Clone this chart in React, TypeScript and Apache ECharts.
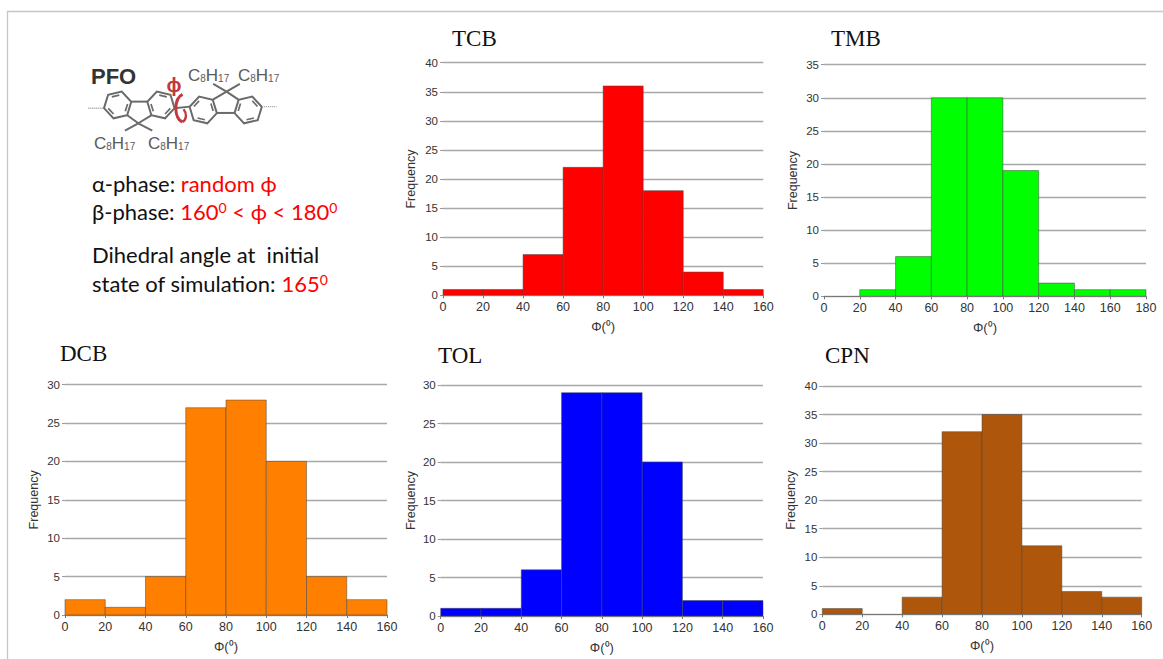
import React, { useEffect, useRef } from "react";
import * as echarts from "echarts";

const tcbValues = [1, 1, 7, 22, 36, 18, 4, 1];
const tmbValues = [0, 1, 6, 30, 30, 19, 2, 1, 1];
const dcbValues = [2, 1, 5, 27, 28, 20, 5, 2];
const tolValues = [1, 1, 6, 29, 29, 20, 2, 2];
const cpnValues = [1, 0, 3, 32, 35, 12, 4, 3];
const binWidth = 20;
const xName = "Φ(⁰)";
const yName = "Frequency";

const panels = [
  { title: "TCB", values: tcbValues, color: "#ff0000", xMax: 160, yMax: 40, l: 443, r: 763.3, t: 62.7, b: 295.3, tx: 452, ty: 38, yGap: 26 },
  { title: "TMB", values: tmbValues, color: "#00ff00", xMax: 180, yMax: 35, l: 824, r: 1146, t: 64.7, b: 296.3, tx: 831, ty: 38, yGap: 25 },
  { title: "DCB", values: dcbValues, color: "#ff8000", xMax: 160, yMax: 30, l: 65, r: 387, t: 384.7, b: 615, tx: 60, ty: 353, yGap: 25 },
  { title: "TOL", values: tolValues, color: "#0000ff", xMax: 160, yMax: 30, l: 440.7, r: 763, t: 385, b: 616, tx: 438, ty: 355, yGap: 23 },
  { title: "CPN", values: cpnValues, color: "#ae570c", xMax: 160, yMax: 40, l: 822.3, r: 1141.7, t: 386, b: 614.3, tx: 825, ty: 355, yGap: 25 },
];

const AXIS_FONT = "'Liberation Sans', Arial, sans-serif";
const BODY_FONT = "Lato, 'Noto Sans', sans-serif";
const BOND = "#6a6a6a";
const RED = "#ff0000";
const DARK_RED = "#c23a40";

// Hexagon ring with inner double-bond strokes, in the molecule's own drawing units
function ring(cx: number, cy: number, rot: number, doubles: number[]) {
  const R = 42;
  const p: number[][] = [];
  for (let i = 0; i < 6; i++) {
    const a = ((rot + i * 60) * Math.PI) / 180;
    p.push([cx + R * Math.cos(a), cy + R * Math.sin(a)]);
  }
  const els: any[] = [
    { type: "polygon", shape: { points: p }, style: { fill: "none", stroke: BOND, lineWidth: 6 } },
  ];
  doubles.forEach((i) => {
    const a = p[i];
    const b = p[(i + 1) % 6];
    const k = 0.76;
    const shrink = (q: number[]) => [cx + (q[0] - cx) * k, cy + (q[1] - cy) * k];
    const s = shrink(a);
    const e = shrink(b);
    els.push({
      type: "line",
      shape: { x1: s[0] + (e[0] - s[0]) * 0.14, y1: s[1] + (e[1] - s[1]) * 0.14, x2: e[0] - (e[0] - s[0]) * 0.14, y2: e[1] - (e[1] - s[1]) * 0.14 },
      style: { stroke: BOND, lineWidth: 5 },
    });
  });
  return els;
}

function bond(x1: number, y1: number, x2: number, y2: number, dashed = false) {
  return {
    type: "line",
    shape: { x1, y1, x2, y2 },
    style: { stroke: dashed ? "#9a9a9a" : BOND, lineWidth: dashed ? 4 : 6, lineDash: dashed ? [3, 3] : undefined },
  };
}

const moleculeChildren: any[] = [
  ...ring(98, 135, -13, [0, 2, 4]),
  ...ring(228, 135, 13, [0, 2, 4]),
  ...ring(355, 150, 13, [1, 3, 5]),
  ...ring(490, 150, -13, [1, 3, 5]),
  bond(139, 125, 187, 125),
  bond(127, 166, 160, 190),
  bond(199, 166, 160, 190),
  bond(160, 190, 120, 212),
  bond(160, 190, 202, 212),
  bond(396, 159, 449, 159),
  bond(384, 119, 425, 95),
  bond(461, 119, 425, 95),
  bond(425, 95, 385, 72),
  bond(425, 95, 465, 72),
  bond(269, 145, 314, 140),
  bond(10, 145, 57, 145, true),
  bond(531, 140, 575, 140, true),
  {
    type: "bezierCurve",
    shape: { x1: 293, y1: 103, x2: 293, y2: 186, cpx1: 266, cpy1: 116, cpx2: 266, cpy2: 176 },
    style: { stroke: DARK_RED, lineWidth: 9, fill: "none" },
  },
  {
    type: "bezierCurve",
    shape: { x1: 293, y1: 186, x2: 296, y2: 148, cpx1: 306, cpy1: 178, cpx2: 306, cpy2: 160 },
    style: { stroke: DARK_RED, lineWidth: 7, fill: "none" },
  },
];

const chemRich = {
  n: { fontFamily: AXIS_FONT, fontSize: 17, fill: "#5a5a5a", color: "#5a5a5a" },
  s: { fontFamily: AXIS_FONT, fontSize: 10, fill: "#5a5a5a", color: "#5a5a5a", verticalAlign: "bottom" },
};

function chem(x: number, y: number) {
  return {
    type: "text",
    x,
    y,
    style: { text: "{n|C}{s|8}{n|H}{s|17}", rich: chemRich, verticalAlign: "middle" },
  };
}

const bodyRich = {
  k: { fontFamily: BODY_FONT, fontSize: 22, fill: "#111111" },
  r: { fontFamily: BODY_FONT, fontSize: 22, fill: RED },
  u: { fontFamily: BODY_FONT, fontSize: 14, fill: RED, verticalAlign: "top" },
};

function bodyLine(y: number, text: string) {
  return { type: "text", x: 92, y, style: { text, rich: bodyRich, verticalAlign: "middle" } };
}

function renderBin(color: string) {
  return (params: any, api: any) => {
    const v = api.value(2);
    if (!v) return null;
    const a = api.coord([api.value(0), v]);
    const b = api.coord([api.value(1), 0]);
    return {
      type: "rect",
      shape: { x: a[0], y: a[1], width: b[0] - a[0], height: b[1] - a[1] },
      style: { fill: color, stroke: "rgba(70,70,70,0.5)", lineWidth: 1 },
    };
  };
}

export default function App() {
  const ref = useRef<HTMLDivElement>(null);
  useEffect(() => {
    const chart = echarts.init(ref.current!, undefined, { renderer: "svg" });
    const option: any = {
      animation: false,
      backgroundColor: "#ffffff",
      grid: panels.map((p) => ({ left: p.l, top: p.t, width: p.r - p.l, height: p.b - p.t, containLabel: false })),
      xAxis: panels.map((p, i) => ({
        type: "value",
        gridIndex: i,
        min: 0,
        max: p.xMax,
        interval: binWidth,
        z: 5,
        name: xName,
        nameLocation: "middle",
        nameGap: 25,
        nameTextStyle: { fontFamily: AXIS_FONT, fontSize: 13, color: "#333333" },
        splitLine: { show: false },
        axisLine: { show: true, onZero: false, lineStyle: { color: "#777777", width: 1 } },
        axisTick: { show: true, length: 3, lineStyle: { color: "#777777" } },
        axisLabel: { fontFamily: AXIS_FONT, fontSize: 12.5, color: "#333333", margin: 5, showMinLabel: true, showMaxLabel: true, hideOverlap: false },
      })),
      yAxis: panels.map((p, i) => ({
        type: "value",
        gridIndex: i,
        min: 0,
        max: p.yMax,
        interval: 5,
        name: yName,
        nameLocation: "middle",
        nameGap: p.yGap,
        nameTextStyle: { fontFamily: AXIS_FONT, fontSize: 12.5, color: "#333333" },
        axisLine: { show: false },
        axisTick: { show: true, length: 3, lineStyle: { color: "#999999" } },
        axisLabel: { fontFamily: AXIS_FONT, fontSize: 11.5, color: "#333333", margin: 5 },
        splitLine: { show: true, lineStyle: { color: "#a8a8a8", width: 1.4 } },
      })),
      series: panels.map((p, i) => ({
        type: "custom",
        xAxisIndex: i,
        yAxisIndex: i,
        clip: false,
        renderItem: renderBin(p.color),
        encode: { x: [0, 1], y: 2 },
        data: p.values.map((v, k) => [k * binWidth, (k + 1) * binWidth, v]),
      })),
      graphic: {
        elements: [
          { type: "line", shape: { x1: 7, y1: 11.5, x2: 1163, y2: 11.5 }, style: { stroke: "#c6c6c6", lineWidth: 1.3 } },
          { type: "line", shape: { x1: 7.5, y1: 11, x2: 7.5, y2: 659 }, style: { stroke: "#c6c6c6", lineWidth: 1.3 } },
          ...panels.map((p) => ({
            type: "text",
            x: p.tx,
            y: p.ty,
            style: { text: p.title, fontFamily: "'Liberation Serif', serif", fontSize: 23, fill: "#111111", verticalAlign: "middle" },
          })),
          { type: "group", x: 85, y: 60, scaleX: 1 / 3, scaleY: 1 / 3, children: moleculeChildren },
          { type: "text", x: 91, y: 76, style: { text: "PFO", fontFamily: AXIS_FONT, fontWeight: "bold", fontSize: 22, fill: "#333333", verticalAlign: "middle" } },
          { type: "text", x: 174, y: 85, style: { text: "ϕ", fontFamily: AXIS_FONT, fontWeight: "bold", fontSize: 20, fill: DARK_RED, align: "center", verticalAlign: "middle" } },
          chem(188, 75),
          chem(238, 75),
          chem(94, 143),
          chem(148, 143),
          bodyLine(183, "{k|α-phase: }{r|random ϕ}"),
          bodyLine(211, "{k|β-phase: }{r|160}{u|0}{r| < ϕ < 180}{u|0}"),
          bodyLine(254, "{k|Dihedral angle at  initial}"),
          bodyLine(283, "{k|state of simulation: }{r|165}{u|0}"),
        ],
      },
    };
    chart.setOption(option);
    return () => chart.dispose();
  }, []);
  return <div ref={ref} style={{ position: "fixed", left: 0, top: 0, width: 1163, height: 659 }} />;
}
